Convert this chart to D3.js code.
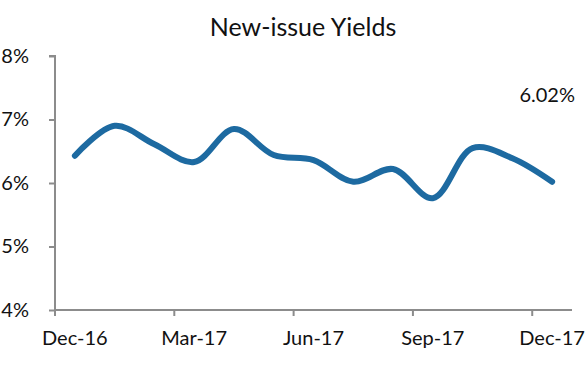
<!DOCTYPE html>
<html><head><meta charset="utf-8">
<script src="https://cdn.jsdelivr.net/npm/d3@7/dist/d3.min.js"></script>
<style>body{margin:0;background:#fff}svg{display:block;font-family:Lato,sans-serif}</style>
</head><body>
<svg id="chart" width="588" height="369"></svg>
<script>
const months = ["Dec-16","Jan-17","Feb-17","Mar-17","Apr-17","May-17","Jun-17","Jul-17","Aug-17","Sep-17","Oct-17","Nov-17","Dec-17"];
const yields = [6.43, 6.90, 6.61, 6.33, 6.85, 6.44, 6.36, 6.02, 6.22, 5.76, 6.55, 6.39, 6.02];
const yTicks = [4, 5, 6, 7, 8];
const xLabels = ["Dec-16","Mar-17","Jun-17","Sep-17","Dec-17"];
const title = "New-issue Yields";
const lastLabel = "6.02%";

const svg = d3.select("#chart");
const x = d3.scaleBand().domain(months).range([55, 572]);
const y = d3.scaleLinear().domain([4, 8]).range([310, 56]);
const axisColor = "#8c8c8c";

// y axis
const ya = svg.append("g").attr("transform","translate(55,0)")
  .call(d3.axisLeft(y).tickValues(yTicks).tickSize(6).tickPadding(20).tickFormat(d => d + "%"));
ya.select(".domain").attr("stroke", axisColor).attr("stroke-width", 2).attr("d", `M-6,${y(8)}H0V${y(4)}`);
ya.selectAll(".tick line").attr("stroke", axisColor).attr("stroke-width", 2);
ya.selectAll(".tick text").attr("fill","#111").style("font-size","20px").style("font-family","Lato, sans-serif");

// x axis
const xa = svg.append("g").attr("transform",`translate(0,${y(4)})`);
xa.append("line").attr("x1", 55).attr("x2", 572).attr("stroke", axisColor).attr("stroke-width", 2);
xa.selectAll("line.t").data(xLabels).join("line").attr("class","t")
  .attr("x1", d => x(d)).attr("x2", d => x(d)).attr("y1", 0).attr("y2", 6)
  .attr("stroke", axisColor).attr("stroke-width", 2);
xa.selectAll("text").data(xLabels).join("text")
  .attr("x", d => x(d) + x.bandwidth()/2).attr("y", 35)
  .attr("text-anchor","middle").attr("fill","#111").style("font-size","20px").text(d => d);

// line
const line = d3.line().x(d => x(d.m) + x.bandwidth()/2).y(d => y(d.v)).curve(d3.curveCatmullRom.alpha(0.5));
svg.append("path").datum(months.map((m,i) => ({m, v: yields[i]})))
  .attr("d", line).attr("fill","none").attr("stroke","#1d6aa1").attr("stroke-width",6).attr("stroke-linecap","round").attr("stroke-linejoin","round");

// title
svg.append("text").attr("x", 303).attr("y", 36).attr("text-anchor","middle").attr("fill","#111").style("font-size","25px").text(title);

// last value label
svg.append("text").attr("x", 575).attr("y", 102).attr("text-anchor","end").attr("fill","#111").style("font-size","20px").text(lastLabel);
</script>
</body></html>
